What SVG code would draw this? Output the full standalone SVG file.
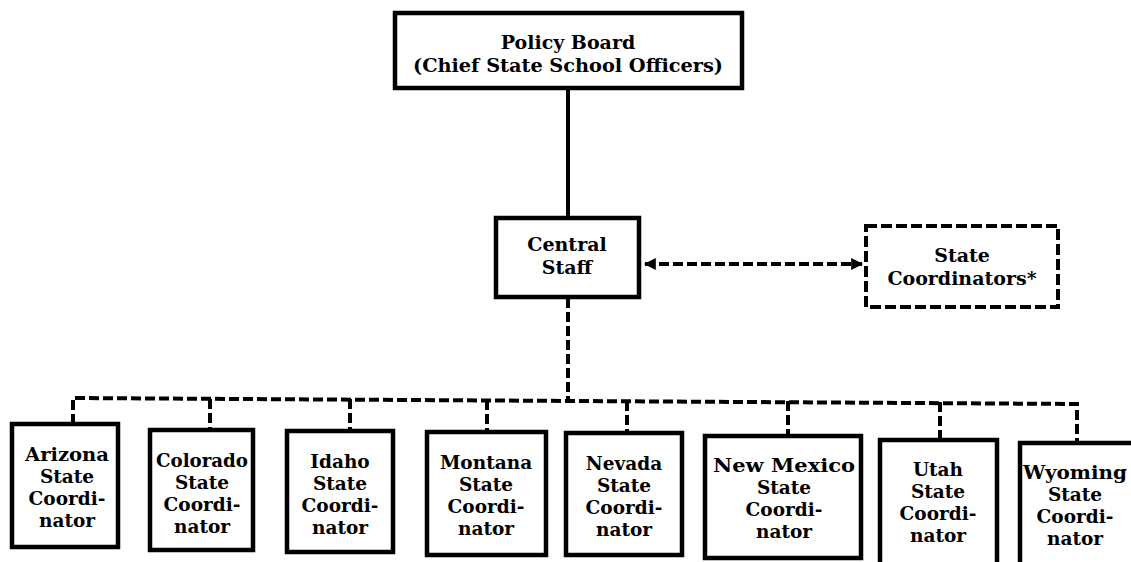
<svg xmlns="http://www.w3.org/2000/svg" width="1131" height="562" viewBox="0 0 1131 562">
<style>
text{font-family:"DejaVu Serif","Liberation Serif",serif;font-weight:bold;font-size:18.5px;fill:#000;text-anchor:middle}
.t{font-size:19px}
.box{fill:#fff;stroke:#000;stroke-width:4.5}
.dbox{fill:#fff;stroke:#000;stroke-width:4;stroke-dasharray:11 4}
.solid{fill:none;stroke:#000;stroke-width:4}
.dash{fill:none;stroke:#000;stroke-width:4;stroke-dasharray:10 4}
</style>
<defs>
<marker id="ah" viewBox="0 0 10 10" refX="9" refY="5" markerWidth="4" markerHeight="3" orient="auto-start-reverse" markerUnits="strokeWidth">
<path d="M0,0 L10,5 L0,10 z" fill="#000"/>
</marker>
</defs>
<rect width="1131" height="562" fill="#fff"/>
<g id="connectors">
<line class="solid" x1="568" y1="88" x2="568" y2="218"/>
<line class="dash" x1="645" y1="264" x2="862" y2="264" marker-start="url(#ah)" marker-end="url(#ah)"/>
<line class="dash" x1="568" y1="298" x2="568" y2="400"/>
<polyline class="dash" points="73,424 73,398 1077,404 1077,443"/>
<line class="dash" x1="210" y1="399" x2="210" y2="430"/>
<line class="dash" x1="350" y1="399" x2="350" y2="431"/>
<line class="dash" x1="487" y1="400" x2="487" y2="432"/>
<line class="dash" x1="627" y1="401" x2="627" y2="433"/>
<line class="dash" x1="788" y1="401" x2="788" y2="436"/>
<line class="dash" x1="940" y1="402" x2="940" y2="440"/>
</g>
<g id="policy-board">
<rect class="box" x="395" y="13" width="347" height="75"/>
<text class="t" x="568" y="49">Policy Board</text>
<text class="t" x="568" y="72" textLength="310" lengthAdjust="spacingAndGlyphs">(Chief State School Officers)</text>
</g>
<g id="central-staff">
<rect class="box" x="496" y="218" width="143" height="79"/>
<text class="t" x="567" y="251">Central</text>
<text class="t" x="567" y="274">Staff</text>
</g>
<g id="state-coordinators">
<rect class="dbox" x="866" y="226" width="192" height="81"/>
<text class="t" x="962" y="262">State</text>
<text class="t" x="962" y="285">Coordinators*</text>
</g>
<g id="arizona">
<rect class="box" x="12" y="424" width="106" height="123"/>
<text x="67" y="461" textLength="84" lengthAdjust="spacingAndGlyphs">Arizona</text><text x="67" y="483">State</text><text x="67" y="505">Coordi-</text><text x="67" y="527">nator</text>
</g>
<g id="colorado">
<rect class="box" x="150" y="430" width="103" height="120"/>
<text x="202" y="467" textLength="92" lengthAdjust="spacingAndGlyphs">Colorado</text><text x="202" y="489">State</text><text x="202" y="511">Coordi-</text><text x="202" y="533">nator</text>
</g>
<g id="idaho">
<rect class="box" x="287" y="431" width="106" height="121"/>
<text x="340" y="468">Idaho</text><text x="340" y="490">State</text><text x="340" y="512">Coordi-</text><text x="340" y="534">nator</text>
</g>
<g id="montana">
<rect class="box" x="427" y="432" width="119" height="123"/>
<text x="486" y="469">Montana</text><text x="486" y="491">State</text><text x="486" y="513">Coordi-</text><text x="486" y="535">nator</text>
</g>
<g id="nevada">
<rect class="box" x="566" y="433" width="116" height="122"/>
<text x="624" y="470">Nevada</text><text x="624" y="492">State</text><text x="624" y="514">Coordi-</text><text x="624" y="536">nator</text>
</g>
<g id="new-mexico">
<rect class="box" x="705" y="436" width="156" height="122"/>
<text x="784" y="472" textLength="142" lengthAdjust="spacingAndGlyphs">New Mexico</text><text x="784" y="494">State</text><text x="784" y="516">Coordi-</text><text x="784" y="538">nator</text>
</g>
<g id="utah">
<rect class="box" x="880" y="440" width="117" height="130"/>
<text x="938" y="476">Utah</text><text x="938" y="498">State</text><text x="938" y="520">Coordi-</text><text x="938" y="542">nator</text>
</g>
<g id="wyoming">
<rect class="box" x="1020" y="443" width="120" height="130"/>
<text x="1075" y="479" textLength="104" lengthAdjust="spacingAndGlyphs">Wyoming</text><text x="1075" y="501">State</text><text x="1075" y="523">Coordi-</text><text x="1075" y="545">nator</text>
</g>
</svg>
